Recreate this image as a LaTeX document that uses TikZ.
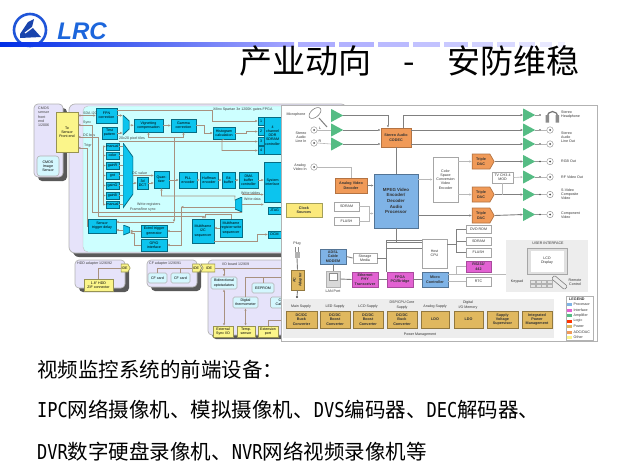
\documentclass[tikz,border=0pt]{standalone}
\usepackage{fontspec}
\usetikzlibrary{arrows.meta,shapes.symbols,shadows}
\newfontfamily\cjkhei{Noto Sans CJK SC}
\newfontfamily\hwmono{DejaVu Sans Mono}
\newfontfamily\labelsans{Liberation Sans}
\newcommand{\hwlat}[1]{\scalebox{.83}[1]{\hwmono #1}}
\newcommand{\tinysf}{\fontsize{3.6}{4.2}\selectfont\labelsans}
\newcommand{\tinybf}{\fontsize{3.7}{4.4}\selectfont\labelsans\bfseries}
\definecolor{logoblue}{HTML}{1F55D8}
\definecolor{palelav}{HTML}{E6E3FA}
\definecolor{fpgabg}{HTML}{CDFFFF}
\definecolor{fpgabox}{HTML}{0CC4EE}
\definecolor{wirebrown}{HTML}{A8917F}
\definecolor{softyellow}{HTML}{FBF58A}
\definecolor{ampgreen}{HTML}{55BC84}
\definecolor{dacorange}{HTML}{F09A58}
\definecolor{procblue}{HTML}{7FB3E6}
\definecolor{ifmagenta}{HTML}{E262D2}
\definecolor{powergold}{HTML}{E0B85F}
\definecolor{panelgray}{HTML}{EDEDED}
\tikzset{sz/.style 2 args={minimum width=#1pt,minimum height=#2pt},
    mux/.style={inner sep=0pt,path picture={
        \path[fill=fpgabox,draw=black!45!fpgabox,line width=0.8pt] (path picture bounding box.north west)
            -- ([yshift=-#1pt]path picture bounding box.north east)
            -- ([yshift=#1pt]path picture bounding box.south east)
            -- (path picture bounding box.south west) -- cycle;}},
    rmux/.style={inner sep=0pt,path picture={
        \path[fill=fpgabox,draw=black!45!fpgabox,line width=0.8pt] (path picture bounding box.north east)
            -- ([yshift=-#1pt]path picture bounding box.north west)
            -- ([yshift=#1pt]path picture bounding box.south west)
            -- (path picture bounding box.south east) -- cycle;}}}
\begin{document}
\begin{tikzpicture}[x=1pt,y=-1pt,>={Latex[length=2.4pt,width=2.4pt]}]
    \tikzstyle{frame}=[draw=black!30,fill=palelav,rounded corners=4pt,line width=0.7pt,inner sep=0pt]
    \tikzstyle{shadow frame}=[frame,drop shadow={shadow xshift=4pt,shadow yshift=-4pt,opacity=1,fill=black!65}]
    \tikzstyle{fpga}=[draw=black!45!fpgabox,fill=fpgabox,font=\tinysf,align=center,inner sep=0pt,line width=0.5pt]
    \tikzstyle{yellow}=[draw=black!40!softyellow,fill=softyellow,font=\tinysf,align=center,inner sep=0pt,line width=0.6pt]
    \tikzstyle{pale}=[draw=black!30,fill=fpgabg!70!palelav,rounded corners=1.5pt,font=\tinysf,align=center,inner sep=0pt,line width=0.6pt]
    \tikzstyle{plug}=[yellow,signal,signal pointer angle=120,minimum height=8pt,minimum width=9pt]
    \tikzstyle{note}=[font=\tinysf,align=left,inner sep=0pt,text=black!75]
    \tikzstyle{wire}=[draw=wirebrown,line width=0.6pt]
    \tikzstyle{part}=[font=\tinybf,align=center,inner sep=0pt,line width=0.7pt,text=black!80]
    \tikzstyle{proc}=[part,draw=black!35!procblue,fill=procblue]
    \tikzstyle{orange}=[part,draw=black!25!dacorange,fill=dacorange]
    \tikzstyle{iface}=[part,draw=black!25!ifmagenta,fill=ifmagenta]
    \tikzstyle{gold}=[part,draw=black!35!powergold,fill=powergold]
    \tikzstyle{ghost}=[part,draw=black!35,fill=white,font=\tinysf]
    \tikzstyle{dac}=[orange,signal,signal to=east,signal pointer angle=120,sz={22}{15}]
    \tikzstyle{amp}=[sz={12}{13},inner sep=0pt,anchor=west,path picture={
        \fill[ampgreen] (path picture bounding box.north west) -- (path picture bounding box.east)
            -- (path picture bounding box.south west) -- cycle;}]
    \tikzstyle{jack}=[circle,draw=black!45,fill=white,minimum size=6.5pt,inner sep=0pt,
        path picture={\fill[black!70] (path picture bounding box.center) circle (1pt);}]
    \tikzstyle{ndot}=[circle,fill=black!75,minimum size=1.6pt,inner sep=0pt]
    \tikzstyle{rnote}=[font=\tinysf,inner sep=0pt,text=black!80]
    \tikzstyle{rline}=[draw=black!50,line width=0.9pt]
    \tikzstyle{thin line}=[draw=black!28,line width=0.6pt]
    \tikzstyle{body}=[anchor=west,inner sep=0pt,font=\fontsize{20.5}{21}\selectfont\cjkhei]

    \useasboundingbox (0,0) rectangle (617,464);

    % Draw the logo and the header rule
    \draw[logoblue,line width=2.6pt] (30,30) circle (16pt);
    \fill[logoblue!80!black] (20,34) -- (28,22) -- (34,19) -- (32,27) -- (41,37) -- (20,38) -- cycle;
    \draw[white,line width=1.2pt] (25,33) -- (33,27);
    \node[inner sep=0pt,font=\fontsize{24}{24}\selectfont\labelsans\bfseries\itshape,text=logoblue!90!cyan] (lrc) at (82,31.5) {LRC};
    \shade[left color=blue!80!cyan!90!black,right color=blue!35!white] (0,42) rectangle (294,46.5);
    \foreach \xa/\xb/\shadeval in {298/335/32,339/374/30,378/409/27,413/440/24,444/468/21,472/493/18,497/515/15,519/535/12,540/552/9,558/565/6}
        \fill[blue!\shadeval!white] (\xa,42) rectangle (\xb,47);
    \node[anchor=west,inner sep=0pt,font=\fontsize{33}{33}\selectfont\cjkhei] (title) at (239.5,61)
        {产业动向\hspace{32pt}-\hspace{32pt}安防维稳};

    % Draw the frames of the camera board
    \node[shadow frame,sz={29}{73}] (cmosf) at (48.5,140.5) {};
    \node[shadow frame,rounded corners=6pt,sz={278}{149}] (board) at (208,178.5) {};
    \node[draw=black!25,fill=fpgabg,rounded corners=5pt,sz={264}{146},inner sep=0pt] (fabric) at (215,179) {};
    \node[note,anchor=north west] (t-cmos) at (38,107) {CMOS\\sensor\\front\\end\\1/2006};
    \node[yellow,sz={22}{40}] (tosens) at (67,132) {To\\Sensor\\Front end};
    \node[pale,rounded corners=3pt,sz={22}{20}] (sensor) at (48,166) {CMOS\\Image\\Sensor};

    % Draw the blocks of the FPGA
    \node[fpga,sz={21}{15}] (fpn) at (106.5,115.5) {FPN\\correction};
    \node[fpga,sz={15}{12}] (test) at (109.5,133) {Test\\pattern};
    \node[mux=6,sz={6.5}{20}] (topmux) at (126,125) {};
    \node[fpga,sz={29}{13}] (vign) at (148.5,125.5) {Vignetting\\compensation};
    \node[fpga,sz={25}{13}] (gamma) at (183.5,125.5) {Gamma\\correction};
    \node[fpga,sz={22}{12}] (hist) at (224,133) {Histogram\\calculation};
    \foreach \name/\y in {1/121,2/131.5,3/141,4/150.5}
        \node[fpga,sz={6}{8}] (port-\name) at (261,\y) {\name};
    \node[fpga,sz={17}{37}] (ddr) at (272.5,135.5) {4\\channel\\DDR\\SDRAM\\controller};
    \node[fpga,sz={17}{40}] (system) at (272.5,182) {System\\interface};
    \node[fpga,sz={13}{7}] (jtag) at (274.5,210.5) {JTAG};
    \node[fpga,sz={13}{7}] (dcm) at (274.5,234.5) {DCM};
    \foreach \name/\y/\txt in {1/146.5/manual,2/155.5/color,3/165.5/gainR,4/175.5/gnt,5/185.5/gainG,6/195.5/gainB,7/204.5/manual}
        \node[fpga,sz={13}{7}] (col-\name) at (112.5,\y) {\txt};
    \node[mux=14,sz={10}{65}] (bigmux) at (128,175.5) {};
    \node[fpga,sz={11}{12}] (dct) at (142.5,183) {3d\\DCT};
    \node[fpga,sz={15}{17}] (quant) at (161.5,179.5) {Quan-\\tizer};
    \node[fpga,sz={18}{16}] (pll) at (188,180) {PLL\\encoder};
    \node[fpga,sz={18}{16}] (huff) at (209,180) {Huffman\\encoder};
    \node[fpga,sz={13}{16}] (bitb) at (228.5,180) {Bit\\buffer};
    \node[fpga,sz={19}{16}] (dma) at (248.5,180) {DMA\\buffer\\controller};
    \node[rmux=3,sz={7}{15}] (wmux) at (238.5,204.5) {};
    \node[fpga,sz={28}{14}] (strig) at (102,226) {Sensor\\trigger delay};
    \node[mux=2.5,sz={6.5}{10}] (smux) at (126.5,230) {};
    \node[fpga,sz={26}{12}] (extt) at (154,231) {Extrnl trigger\\generator};
    \node[fpga,sz={26}{12}] (gpio) at (154,245) {GPIO\\interface};
    \node[fpga,sz={22}{24}] (mi2c) at (203,231) {Multiframe\\I2C\\sequencer};
    \node[fpga,sz={22}{18}] (mreg) at (231,228) {Multiframe\\register write\\sequencer};

    % Annotate the FPGA
    \foreach \name/\x/\y/\txt in {fpga/213/110/{Xilinx Spartan 3e 1200K gates FPGA},sda/83/113/{SDA I2C},sync/83/123/Sync,
        bus/83/135/{DC bus},trig/84/146/Trigr,tiles/119/139/{20x20 pixel tiles},dcv/132/173/{DC value},
        wtab/241/193/{Write tables},wdat/244/199/{Write data},wreg/137/205/{Write registers},fsync/130/210/{Frame/line sync}}
        \node[note,anchor=west] (t-\name) at (\x,\y) {\txt};
    \coordinate (s-sda) at (78,115.5);
    \coordinate (s-sync) at (78,125);
    \coordinate (s-bus) at (78,137);
    \coordinate (s-trig) at (78,148);
    \coordinate (r-sync) at (92,212.5);
    \coordinate (r-bus) at (98,216);
    \coordinate (f-back) at (174,137);
    \coordinate (f-low) at (174,222);
    \coordinate (g-back) at (181,207);
    \coordinate (g-low) at (181,246);
    \coordinate (tiles) at (119,141.5);
    \coordinate (colbus) at (103,146.5);
    \coordinate (colend) at (103,204.5);

    % Connect the blocks of the FPGA
    \draw[wire,<->] (s-sda) -- (fpn.west);
    \draw[wire,<-] (s-sync) -- (s-sync -| r-sync) -- (r-sync) -- (r-sync -| wmux.east);
    \draw[wire,<->] (s-bus) -- (s-bus -| r-bus) -- (r-bus) -- (r-bus -| mi2c.north) -- (mi2c.north);
    \draw[wire,<-] (s-trig) -- (87,148) |- (strig.west);
    \draw[wire,->] (fpn.east) -- (topmux.west |- fpn.east);
    \draw[wire,->] (test.east) -- (topmux.west |- test.east);
    \draw[wire,->] (topmux.east) -- (vign.west);
    \draw[wire,->] (vign.east) -- (gamma.west);
    \draw[wire,->] (gamma.east) -- (204,125.5) |- (hist.west);
    \draw[wire,->] ([yshift=5pt]fpn.east) -- (212,110.5) |- (port-1.west);
    \draw[wire,->] (hist.east) -- (246,133) |- (port-2.west);
    \draw[wire,->] (tiles) -- (port-3.west |- tiles);
    \draw[wire,<-] (port-4.west) -- (222,150.5) -- (222,140) -- (hist.south);
    \draw[wire,->] (f-back) -- (f-low);
    \draw[wire,->] (f-back) -- (f-back -| vign.south) -- (vign.south);
    \draw[wire,->] (f-back) -- (f-back -| gamma.south) -- (gamma.south);
    \draw[wire,->] (f-low) -- (f-low -| strig.east);
    \foreach \name in {1,...,7}
        \draw[wire] (col-\name.east) -- (col-\name.east -| bigmux.west);
    \foreach \name in {1,...,7}
        \draw[wire,->] (colbus |- col-\name.west) -- (col-\name.west);
    \draw[wire] (colbus) -- (colend);
    \draw[wire,->] (bigmux.east |- 0,175.5) -- (quant.west |- 0,175.5);
    \draw[wire,->] (bigmux.east |- dct.west) -- (dct.west);
    \draw[wire,->] (dct.east) -- (dct.east -| quant.west);
    \foreach \source/\dest in {quant/pll,pll/huff,huff/bitb,bitb/dma,dma/system}
        \draw[wire,->] (\source.east |- pll.east) -- (\dest.west |- pll.east);
    \draw[wire,->] (wmux.east |- t-wtab.south) -- (system.west |- t-wtab.south);
    \draw[wire,->] (wmux.east) -- (wmux.east -| system.west);
    \draw[wire,<-] (quant.south) -- (161.5,196) -- (235,196) -- ([yshift=4pt]wmux.west);
    \draw[wire,<-] (g-back) -- (g-back -| wmux.west);
    \draw[wire] (g-back) -- (g-low);
    \draw[wire,->] (g-low |- extt.east) -- (extt.east);
    \draw[wire,->] (g-low |- gpio.east) -- (gpio.east);
    \draw[wire,->] (mreg.north) -- ++(0,-4) -- ++(-26,0) -- ++(0,4);
    \draw[wire,->] (mreg.west) -- (mi2c.east |- mreg.west);
    \draw[wire,->] (mi2c.east |- 0,241) -- (257,241) |- (dcm.west);
    \draw[wire,->] (smux.west) -- (strig.east |- smux.west);
    \draw[wire,->] (extt.west) -- (smux.east |- extt.west);
    \draw[wire,->] (gpio.west) -- (134,245) -- (134,233) -- (130,233);

    % Draw the adapters and the I/O board
    \node[shadow frame,sz={50}{28}] (hddf) at (100,274) {};
    \node[shadow frame,sz={50}{27}] (cff) at (172,273.5) {};
    \node[shadow frame,sz={110}{75}] (iob) at (263,297.5) {};
    \node[note,anchor=west] (t-hdd) at (77,264) {HDD adapter 1/2/6/92};
    \node[note,anchor=west] (t-cf) at (149,264) {CF adapter 1/2/6/91};
    \node[note,anchor=west] (t-io) at (222,264) {I/O board 1/2/6/9};
    \node[plug,signal to=east] (ide-1) at (124.5,268) {IDE};
    \node[plug,signal to=east] (ide-2) at (196,268) {IDE};
    \node[plug,signal from=west,signal to=nowhere,minimum width=14pt] (ide-3) at (209,268) {IDE};
    \node[yellow,sz={29}{12}] (zif) at (98.5,285) {1.8" HDD\\ZIF connector};
    \node[pale,sz={19}{10}] (cf-1) at (157.5,278) {CF card};
    \node[pale,sz={19}{10}] (cf-2) at (180.5,278) {CF card};
    \node[pale,sz={26}{12}] (opto) at (224,283) {Bidirectional\\optoisolators};
    \node[pale,sz={22}{10}] (eeprom) at (263,288) {EEPROM};
    \node[pale,sz={25}{11}] (thermo) at (245.5,302.5) {Digital\\thermometer};
    \node[pale,sz={25}{11}] (clock) at (283,302.5) {Clock\\Calendar};
    \node[yellow,sz={20}{11}] (extsync) at (223,331.5) {External\\Sync I/O};
    \node[yellow,sz={18}{11}] (temp) at (246,331.5) {Temp.\\sensor};
    \node[yellow,sz={20}{11}] (extp) at (268,331.5) {Extension\\port};
    \coordinate (io-bus) at (288,277);
    \draw[wire] (zif.north) |- (ide-1.west);
    \foreach \source in {1,2}
        \draw[wire] (cf-\source.north) |- (ide-2.west);
    \draw[wire] (ide-3.east) -- (288,268);
    \draw[wire,<->] (opto.north) -- (opto.north |- ide-3.east);
    \draw[wire,<->] (opto.south) -- (extsync.north -| opto.south);
    \draw[wire] (thermo.north) |- (io-bus);
    \draw[wire] (eeprom.north) -- (eeprom.north |- io-bus);
    \draw[wire,<->] (thermo.south) -- (thermo.south |- temp.north);
    \draw[wire] (extp.north) -- (268,320) -- (288,320);

    % Draw the video processor picture over the camera board
    \node[draw=black!30,fill=white,sz={316}{236},inner sep=0pt,line width=0.8pt] (rpanel) at (439,223) {};
    \node[fill=panelgray,sz={271}{39},inner sep=0pt] (power) at (418.5,318.5) {};
    \node[fill=panelgray,sz={82}{52},inner sep=0pt] (user) at (547,266) {};

    % Draw the amplifiers and the jacks
    \foreach \name/\y in {1/115.5,2/130,3/144}
        \node[amp] (ai-\name) at (331,\y) {};
    \foreach \name/\y in {1/115,2/130,3/144,4/161.5,5/177,6/194.5,7/214.5}
        \node[amp] (ao-\name) at (523,\y) {};
    \foreach \name/\y in {2/130,3/143,a/167}
        \node[jack] (ji-\name) at (314,\y) {};
    \foreach \name/\y in {2/130,3/144,4/161.5,5/177,6/194.5,7/214.5}
        \node[jack] (jo-\name) at (550,\y) {};
    \foreach \name in {1,...,7}
        \node[ndot] (dot-\name) at (540,0 |- ao-\name.west) {};

    % Draw the video path
    \node[orange,sz={30}{19}] (codec) at (396,137.5) {Stereo Audio\\CODEC};
    \node[orange,sz={32}{15}] (decoder) at (351,185.5) {Analog Video\\Decoder};
    \node[proc,sz={44}{54},font=\fontsize{4.4}{5.6}\selectfont\labelsans\bfseries] (mpeg) at (396,201) {MPEG Video\\Encoder/\\Decoder\\Audio\\Processor};
    \node[ghost,sz={25}{45}] (csc) at (445.5,179.5) {Color\\Space\\Conversion\\Video\\Encoder};
    \node[dac] (dac-1) at (481,161.5) {Triple\\DAC};
    \node[dac] (dac-2) at (481,194.5) {Triple\\DAC};
    \node[dac] (dac-3) at (481,215.5) {Triple\\DAC};
    \node[ghost,sz={21}{11}] (tvmod) at (502.5,177.5) {TV CH3-4\\MOD};
    \node[part,draw=black!35!softyellow,fill=softyellow!90!orange,sz={36}{14}] (clk) at (304,210) {Clock\\Sources};
    \node[ghost,sz={25}{9}] (sdram-1) at (346.5,206.5) {SDRAM};
    \node[ghost,sz={25}{8}] (flash-1) at (346.5,221) {FLASH};

    % Draw the lower blocks
    \node[gold,sz={13}{20},align=center] (acad) at (297.5,280) {\rotatebox{90}{\shortstack{AC\\Adapter}}};
    \node[proc,sz={26}{15}] (adsl) at (333,256.5) {ADSL\\Cable\\MODEM};
    \node[ghost,sz={24}{10}] (store) at (365,258) {Storage\\Media};
    \node[draw=black!30,fill=black!15,sz={14}{16},inner sep=0pt,line width=0.7pt] (lan) at (333,279) {};
    \node[draw=black!45,fill=white,sz={8}{7},inner sep=0pt,line width=0.4pt] (lanhole) at (333,277) {};
    \node[iface,sz={26}{15}] (eth) at (365,279.5) {Ethernet\\PHY\\Transceiver};
    \node[iface,sz={26}{15}] (fpgab) at (400,279.5) {FPGA\\PCI/Bridge};
    \node[proc,sz={26}{15}] (micro) at (435,279.5) {Micro\\Controller};
    \node[ghost,sz={25}{29},draw=black!35,line width=0.9pt] (host) at (434.5,253.5) {Host\\CPU};
    \node[ghost,sz={25}{8}] (dvd) at (478.5,229.5) {DVD ROM};
    \node[ghost,sz={25}{8}] (sdram-2) at (478.5,241) {SDRAM};
    \node[ghost,sz={25}{9}] (flash-2) at (478.5,252.5) {FLASH};
    \node[iface,sz={25}{11}] (rs232) at (478.5,266.5) {RS232/\\442};
    \node[ghost,sz={25}{9}] (rtc) at (478.5,281.5) {RTC};
    \foreach \name/\x/\w/\txt in {1/301.5/31/{DC/DC\\Buck\\Converter},2/335/30/{DC/DC\\Boost\\Converter},3/368/30/{DC/DC\\Boost\\Converter},
        4/402/30/{DC/DC\\Buck\\Converter},5/435/28/LDO,6/468.5/29/LDO,7/502.5/31/{Supply\\Voltage\\Supervisor},8/537/30/{Integrated\\Power\\Management}}
        \node[gold,sz={\w}{17}] (pw-\name) at (\x,319.5) {\txt};

    % Annotate the inputs, the outputs and the power rails
    \foreach \name/\x/\y/\txt in {micro/296/115/Microphone,linein/301/137/{Stereo\\Audio\\Line In},vidin/300/167/{Analog\\Video In},
        lport/333/291/{LAN Port},plug/297/244/Plug,lft/320/128/L,rgt/320/141/R,
        main/301/307/{Main Supply},led/335/307/{LED Supply},lcd/368/307/{LCD Supply},dsp/402/305/{DSP/CPU Core\\Supply},
        ana/435/307/{Analog Supply},dig/468/305/{Digital\\I/O Memory},pwm/420/335/{Power Management},ui/548/243/{USER INTERFACE},
        keys/517/282/Keypad,rem/575/282/{Remote\\Control}}
        \node[rnote,align=center] (t-\name) at (\x,\y) {\txt};
    \foreach \name/\y/\txt in {hp/115/{Stereo\\Headphone},lo/137/{Stereo\\Audio\\Line Out},rgb/161/{RGB Out},rf/177/{RF Video Out},
        sv/194/{S-Video\\Composite\\Video},cv/215/{Component\\Video}}
        \node[rnote,align=left,anchor=west] (t-\name) at (561,\y) {\txt};

    % Connect the audio and video path
    \foreach \name in {2,3}
        \draw[thin line] (ji-\name.east) -- (ai-\name.west);
    \draw[thin line] (ji-a.east) -| (decoder.north);
    \draw[rline,->] (ai-1.east) -| ([xshift=-8pt]codec.north);
    \foreach \name in {2,3}
        \draw[rline,->] (ai-\name.east) -- (codec.west |- ai-\name.east);
    \draw[rline,->] ([xshift=7pt]codec.north) |- (ao-1.west);
    \foreach \name in {2,3}
        \draw[rline,->] (codec.east |- ao-\name.west) -- (ao-\name.west);
    \draw[rline] (codec.south) -- (mpeg.north);
    \draw[rline,->] (decoder.east) -- (mpeg.west |- decoder.east);
    \draw[thin line,->] (mpeg.east |- csc.west) -- (csc.west);
    \draw[rline,->] (mpeg.east |- dac-3.west) -- (dac-3.west);
    \draw[thin line] (sdram-1.east) -- (369,206.5) -- (369,221) -- (flash-1.east);
    \draw[thin line,->] (369,213.5) -- (mpeg.west |- 0,213.5);
    \draw[thin line,->] (csc.east |- dac-1.west) -- (dac-1.west);
    \draw[thin line,->] (csc.east |- dac-2.west) -- (dac-2.west);
    \foreach \source/\dest in {1/4,2/6,3/7}
        \draw[rline,->] (dac-\source.east) -- (ao-\dest.west);
    \draw[thin line,->] (tvmod.east) -- (ao-5.west);
    \draw[thin line] (tvmod.south) -- (tvmod.south |- dac-2.east);
    \foreach \name in {1,...,7}
        \draw[black!40,line width=0.5pt] (ao-\name.east) -- (dot-\name);
    \foreach \name in {2,...,7}
        \draw[thin line] (dot-\name) -- (jo-\name.west);

    % Connect the lower blocks
    \coordinate (buspci) at (386,240);
    \coordinate (busstem) at (396,242);
    \coordinate (buscpu) at (456,229.5);
    \draw[rline] (mpeg.south) -- (busstem);
    \draw[rline] (buspci) -- (buspci |- fpgab.north);
    \draw[rline] (buspci) -- (buspci -| host.west);
    \draw[rline] (busstem -| buspci) -- (busstem -| host.west);
    \draw[rline] (buspci |- 0,248) -- (host.west |- 0,248);
    \draw[rline] (store.east) -- (store.east -| buspci);
    \draw[rline] (adsl.east) -- (store.west);
    \draw[rline] (adsl.south) -- (lan.north);
    \draw[rline] (lan.east) -- (eth.west);
    \draw[rline] (eth.east) -- (fpgab.west);
    \draw[rline] (fpgab.east) -- (micro.west);
    \draw[rline] (host.east |- 0,244) -- (buscpu |- 0,244);
    \draw[rline] (buscpu) -- (buscpu |- flash-2.west);
    \foreach \dest in {dvd,sdram-2,flash-2}
        \draw[rline] (buscpu |- \dest.west) -- (\dest.west);
    \draw[thin line] (micro.east |- 0,274) -- (user.west |- 0,274);
    \draw[thin line] (456,274) -- (456,266.5) -- (rs232.west);
    \draw[thin line] (micro.east |- rtc.west) -- (rtc.west);

    % Draw the plug, the microphone and the headphones
    \node[ndot,minimum size=2.4pt] (plugdot) at (297,297) {};
    \node[fill=black!30,sz={5}{6},inner sep=0pt] (plugbody) at (297,255) {};
    \coordinate (prong-a) at (295.5,247);
    \coordinate (prong-b) at (298.5,247);
    \draw[rline] (plugbody.south) -- (acad.north);
    \draw[rline] (acad.south) -- (plugdot);
    \draw[black!45,line width=0.7pt] (prong-a) -- (prong-a |- plugbody.north) (prong-b) -- (prong-b |- plugbody.north);
    \draw[black!50,fill=white,line width=0.6pt,rotate around={40:(315,113)}] (315,113) ellipse (7pt and 4pt);
    \draw[black!50,line width=1pt] (319,118) -- (327,127);
    \draw[black!55,line width=1.2pt] (547,117) arc[start angle=180,end angle=0,radius=5.5pt];
    \fill[black!45] (545.5,115) rectangle (549,122.5) (555.5,115) rectangle (559,122.5);

    % Draw the user interface
    \node[draw=black!35,fill=black!12,sz={40}{26},inner sep=0pt,line width=0.7pt] (lcdf) at (547,261) {};
    \node[fill=white,sz={33}{21},inner sep=0pt,rnote,align=center] (lcdin) at (547,261) {LCD\\Display};
    \foreach \col in {1,...,4}
        \foreach \row in {1,2}
            \node[draw=black!30,fill=black!10,sz={5}{3.6},inner sep=0pt,line width=0.3pt] (key-\col-\row) at (530+\col*5.7-3,277.5+\row*4) {};
    \node[draw=black!50,fill=black!8,rounded corners=1.2pt,sz={17}{4.5},inner sep=0pt,rotate=-40,line width=0.6pt] (remote) at (559.5,282.5) {};

    % Draw the legend
    \node[draw=black!30,fill=white,sz={27}{44},inner sep=0pt,line width=0.7pt] (legend) at (579.5,318) {};
    \node[rnote,font=\tinybf,anchor=west] (t-legend) at (569,299.5) {LEGEND};
    \foreach \name/\y/\col/\txt in {1/304.5/procblue/Processor,2/310/ifmagenta/Interface,3/315.5/ampgreen/Amplifier,4/321/red!60!orange/Logic,
        5/326.5/powergold/Power,6/332/dacorange/{ADC/DAC},7/337/softyellow/Other}{
        \node[fill=\col,sz={4.5}{3},inner sep=0pt] (sw-\name) at (569.5,\y) {};
        \node[rnote,anchor=west] (lg-\name) at (573.5,\y) {\txt};}

    % Write the text below the pictures
    \node[body] (line-1) at (37,370) {视频监控系统的前端设备：};
    \node[body] (line-2) at (37,410) {\hwlat{IPC}网络摄像机、模拟摄像机、\hwlat{DVS}编码器、\hwlat{DEC}解码器、};
    \node[body] (line-3) at (37,452) {\hwlat{DVR}数字硬盘录像机、\hwlat{NVR}网络视频录像机等};
\end{tikzpicture}
\end{document}
